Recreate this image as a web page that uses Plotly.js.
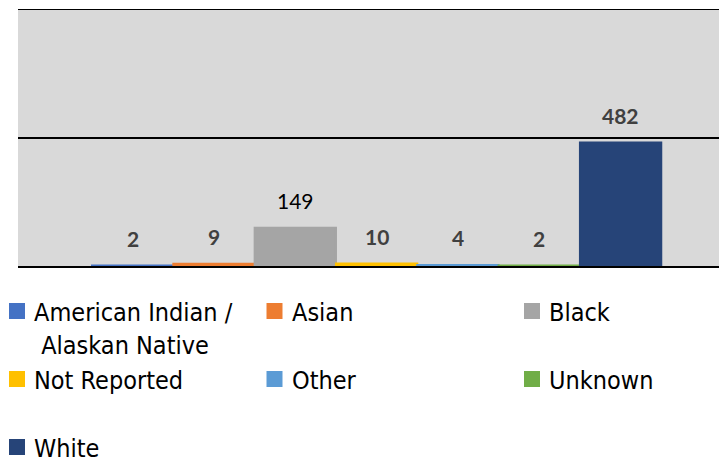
<!DOCTYPE html>
<html><head><meta charset="utf-8">
<script src="https://cdn.plot.ly/plotly-3.0.1.min.js"></script>
<style>html,body{margin:0;padding:0;background:#fff;}#chart{width:719px;height:462px;}</style>
</head><body><div id="chart"></div>
<script>
const categories = ["American Indian / Alaskan Native", "Asian", "Black", "Not Reported", "Other", "Unknown", "White"];
const values = [2, 9, 149, 10, 4, 2, 482];
const colors = ["#4472C4", "#ED7D31", "#A5A5A5", "#FFC000", "#5B9BD5", "#70AD47", "#264478"];
const labelColors = ["#404040", "#404040", "#000000", "#404040", "#404040", "#404040", "#404040"];
const labelBold = [true, true, false, true, true, true, true];

const W = 719, H = 462;
const M = {l: 18, r: 0, t: 10, b: 196};
const plotW = W - M.l - M.r, plotH = H - M.t - M.b;
const px2x = p => (p - M.l) / plotW;
const px2y = p => (H - M.b - p) / plotH;

const LEG_FONT = '"DejaVu Sans Condensed", "DejaVu Sans", sans-serif';
const LEG = {x0: 9, colW: 257.5, y0: 311, rowH: 68, sq: 16, gap: 8};

const traces = categories.map((c, i) => ({
  type: 'bar',
  x: [i],
  y: [values[i]],
  name: c,
  width: 1,
  marker: {color: colors[i], line: {color: colors[i], width: 2}},
  hoverinfo: 'none',
  showlegend: false
}));

const annotations = categories.map((c, i) => ({
  x: i, y: values[i], xref: 'x', yref: 'y',
  text: labelBold[i] ? '<b>' + values[i] + '</b>' : String(values[i]),
  showarrow: false, yanchor: 'middle', yshift: 27,
  font: {family: 'Lato, "Open Sans", sans-serif', size: 21, color: labelColors[i]}
}));

const shapes = [];
categories.forEach((c, i) => {
  const col = i % 3, row = Math.floor(i / 3);
  const sx = LEG.x0 + col * LEG.colW;
  const cy = LEG.y0 + row * LEG.rowH;
  shapes.push({
    type: 'rect', xref: 'paper', yref: 'paper',
    x0: px2x(sx), x1: px2x(sx + LEG.sq),
    y0: px2y(cy - LEG.sq / 2), y1: px2y(cy + LEG.sq / 2),
    fillcolor: colors[i], line: {width: 0}
  });
  const label = c.replace(' / ', ' /<br>\u00a0');
  annotations.push({
    xref: 'paper', yref: 'paper',
    x: px2x(sx + LEG.sq + LEG.gap), y: px2y(cy - 14),
    xanchor: 'left', yanchor: 'top', align: 'left',
    text: label, showarrow: false, borderpad: 0,
    font: {family: LEG_FONT, size: 25, color: '#000000'}
  });
});

const layout = {
  width: W, height: H,
  margin: M,
  paper_bgcolor: '#ffffff',
  plot_bgcolor: '#D9D9D9',
  barmode: 'overlay',
  bargap: 0,
  showlegend: false,
  xaxis: {range: [-1.41, 7.21], showticklabels: false, showgrid: false, zeroline: false,
          showline: true, mirror: true, linecolor: '#000000', linewidth: 1.5, layer: 'below traces', fixedrange: true},
  yaxis: {range: [0, 1000], dtick: 500, showticklabels: false, showgrid: true, gridcolor: '#000000', gridwidth: 1.5,
          zeroline: false, showline: false, fixedrange: true},
  shapes: shapes,
  annotations: annotations
};

Plotly.newPlot('chart', traces, layout, {staticPlot: true});
</script>
</body></html>
